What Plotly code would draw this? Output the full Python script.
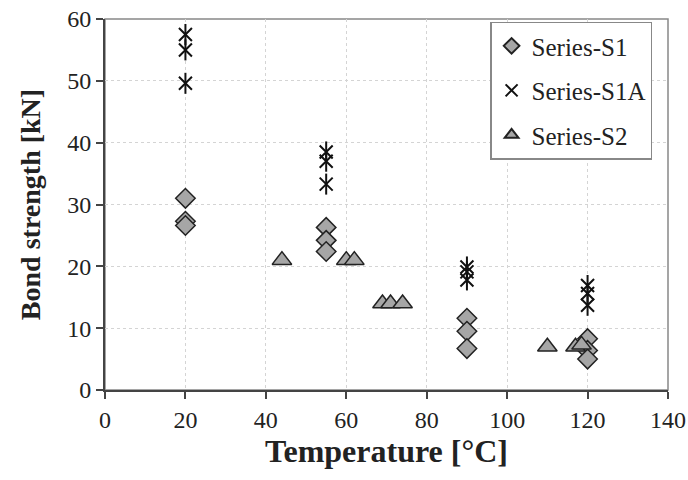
import plotly.graph_objects as go

s1_x = [20, 20, 20, 55, 55, 55, 90, 90, 90, 120, 120, 120]
s1_y = [31.0, 27.3, 26.6, 26.3, 24.2, 22.4, 11.6, 9.5, 6.7, 8.3, 6.4, 5.0]

s1a_x = [20, 20, 20, 55, 55, 55, 90, 90, 90, 120, 120, 120]
s1a_y = [57.5, 55.0, 49.6, 38.5, 37.0, 33.3, 19.9, 19.1, 17.8, 16.9, 15.6, 13.7]

s2_x = [44, 60, 62, 69, 71, 74, 110, 117, 118.5]
s2_y = [21, 21, 21, 14, 14, 14, 7, 7, 7.3]

x_ticks = [0, 20, 40, 60, 80, 100, 120, 140]
y_ticks = [0, 10, 20, 30, 40, 50, 60]

FONT = "Liberation Serif"
GRAY = "#a6a6a6"

fig = go.Figure()
fig.add_trace(go.Scatter(
    x=s1_x, y=s1_y, mode="markers", name="Series-S1",
    marker=dict(symbol="diamond", size=15, color=GRAY, line=dict(color="#222", width=1.5)),
))
fig.add_trace(go.Scatter(
    x=s1a_x, y=s1a_y, mode="markers", name="Series-S1A", legendgroup="s1a",
    marker=dict(symbol="x-thin-open", size=13, color="#111", line=dict(color="#111", width=2)),
))
fig.add_trace(go.Scatter(
    x=s1a_x, y=s1a_y, mode="markers", name="Series-S1A", legendgroup="s1a", showlegend=False,
    marker=dict(symbol="line-ns-open", size=15, color="#111", line=dict(color="#111", width=2)),
))
fig.add_trace(go.Scatter(
    x=s2_x, y=s2_y, mode="markers", name="Series-S2",
    marker=dict(symbol="triangle-up", size=17, color=GRAY, line=dict(color="#222", width=1.5)),
))

fig.update_layout(
    width=688, height=480,
    margin=dict(l=105, r=20, t=19, b=90),
    paper_bgcolor="white", plot_bgcolor="white",
    font=dict(family=FONT, size=24, color="#222"),
    showlegend=True,
    legend=dict(
        x=0.684, y=0.993, xanchor="left", yanchor="top",
        bgcolor="white", bordercolor="#888", borderwidth=1.5,
        font=dict(family=FONT, size=25, color="#222"),
        itemsizing="constant", tracegroupgap=9,
    ),
)
fig.update_xaxes(
    range=[0, 140], tickvals=x_ticks, ticktext=[str(v) for v in x_ticks],
    showgrid=True, gridcolor="#d4d4d4", griddash="dot", gridwidth=1,
    showline=True, linecolor="#444", linewidth=2, mirror=False,
    ticks="outside", ticklen=7, tickcolor="#444", tickwidth=1.5,
    zeroline=False, automargin=False,
    title=dict(text="<b>Temperature [°C]</b>", font=dict(family=FONT, size=32), standoff=8),
)
fig.update_yaxes(
    range=[0, 60], tickvals=y_ticks, ticktext=[str(v) for v in y_ticks],
    showgrid=True, gridcolor="#d4d4d4", griddash="dot", gridwidth=1,
    showline=True, linecolor="#444", linewidth=2, mirror=False,
    ticks="outside", ticklen=7, tickcolor="#444", tickwidth=1.5,
    zeroline=False, automargin=False,
    title=dict(text="<b>Bond strength [kN]</b>", font=dict(family=FONT, size=28), standoff=18),
)
fig.add_shape(type="rect", xref="paper", yref="paper", x0=0, y0=0, x1=1, y1=1,
              line=dict(color="#888", width=1.5), layer="below")

fig.write_html("out.html")
